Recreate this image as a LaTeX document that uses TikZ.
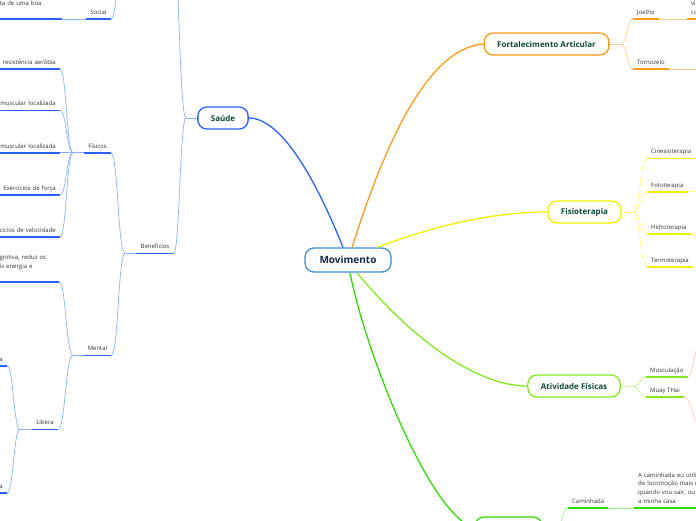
\documentclass[tikz,border=0pt]{standalone}
\usepackage{fontspec}
\setmainfont{Open Sans}
\usetikzlibrary{calc}

\definecolor{movborder}{HTML}{3F8EDB}
\definecolor{movtext}{HTML}{10294A}
\definecolor{topictext}{HTML}{0D4A3A}
\definecolor{labeltext}{HTML}{333333}
\definecolor{sblue}{HTML}{2962FF}
\definecolor{sbluelt}{HTML}{8CB2FF}
\definecolor{forange}{HTML}{FF9A1A}
\definecolor{forangelt}{HTML}{FFCF8A}
\definecolor{fyellow}{HTML}{F2F200}
\definecolor{fyellowlt}{HTML}{FFFF85}
\definecolor{agreen}{HTML}{84EA1E}
\definecolor{agreenlt}{HTML}{C4F590}
\definecolor{bgreen}{HTML}{2EE000}
\definecolor{bgreenlt}{HTML}{9CF28A}
\definecolor{mpink}{HTML}{FFC4BC}

\tikzset{
  branch/.style={to path={.. controls ($(\tikztostart)!.5!(\tikztotarget|-\tikztostart)$)
      and ($(\tikztotarget)!.5!(\tikztostart|-\tikztotarget)$) .. (\tikztotarget)}}
}

\begin{document}
\begin{tikzpicture}[
  x=1pt, y=-1pt,
  hub/.style={draw=movborder, line width=1.3pt, fill=white, rounded corners=9pt, minimum width=86pt, minimum height=24pt, font=\fontsize{10}{12}\selectfont\bfseries, text=movtext},
  topic/.style={draw=#1, line width=1.3pt, fill=white, rounded corners=9pt, minimum height=22pt, inner xsep=13pt, font=\fontsize{8}{10}\selectfont\bfseries, text=topictext},
  lbl/.style={inner xsep=4pt, inner ysep=3pt, text depth=1.5pt, font=\fontsize{6}{8.7}\selectfont, text=labeltext},
  cutr/.style={lbl, text width=#1, align=right, anchor=south east},
  under/.style={line width=1.6pt, draw=#1},
  link/.style={line width=0.7pt, draw=#1},
  main/.style={line width=1.3pt, draw=#1}
]
\useasboundingbox (0,0) rectangle (696,520);
\fill[white] (0,0) rectangle (696,520);
\clip (0,0) rectangle (696,520);

% central and main topics
\node[hub] (mov) at (348,260) {Movimento};
\node[topic=sblue] (sau) at (223,118) {Saúde};
\node[topic=forange] (fort) at (546.5,44) {Fortalecimento Articular};
\node[topic=fyellow] (fisio) at (584.5,212) {Fisioterapia};
\node[topic=agreen] (ativ) at (574,386) {Atividade Físicas};
\node[topic=bgreen, minimum width=67pt] (bot) at (508.5,528) {};

% Saude side
\node[lbl, anchor=south] (ben) at (155,253.5) {Benefícios};
\node[lbl, anchor=south] (fis) at (97.5,152.7) {Físicos};
\node[lbl, anchor=south] (men) at (97.5,355.3) {Mental};
\node[lbl, anchor=south] (lib) at (45,429.3) {Libera};
\node[lbl, anchor=south] (soc) at (98.5,19) {Social};
\node[cutr=70pt] (aer) at (60,69) {resistência aeróbia};
\node[cutr=70pt] (mu1) at (60,110.3) {muscular localizada};
\node[cutr=70pt] (mu2) at (60,152.7) {muscular localizada};
\node[cutr=70pt] (frc) at (60,194.7) {Exercícios de força};
\node[cutr=70pt] (vel) at (60,237) {cícios de velocidade};
\node[lbl, text width=55pt, align=left, text depth=10.2pt, inner ysep=12pt, anchor=south east] (cog) at (59,281.7) {gnitiva, reduz os\\is energia e};
\node[cutr=10pt] (la1) at (7,366) {a};
\node[cutr=10pt] (la2) at (7,493) {a};
\node[lbl, text width=58pt, align=left, inner ysep=12pt, anchor=south east] (boa) at (62,19) {ta de uma boa};

% right side
\node[lbl, anchor=south west] (joe) at (633,19) {Joelho};
\node[lbl, text width=40pt, align=left, text depth=10.2pt, anchor=south west] (joc) at (687,19) {vi\\co};
\node[lbl, anchor=south west] (tor) at (633,69) {Tornozelo};
\node[lbl, anchor=south west] (cin) at (647,158.3) {Cinesioterapia};
\node[lbl, anchor=south west] (fot) at (647,191.7) {Fototerapia};
\node[lbl, anchor=south west] (hid) at (647,234) {Hidroterapia};
\node[lbl, anchor=south west] (ter) at (647,266.7) {Termoterapia};
\node[lbl, anchor=south west] (mus) at (646,376.7) {Musculação};
\node[lbl, anchor=south west] (muy) at (646,396.7) {Muay THai};
\node[lbl, anchor=south west] (cam) at (568,508) {Caminhada};
\node[lbl, text width=80pt, align=left, text depth=27.6pt, anchor=south west] (cac) at (634,508) {A caminhada eu utiliz\\de locomoção mais r\\quando vou sair, ou p\\a minha casa};

% branch points
\coordinate (sau-b) at (186,118);
\coordinate (sau-up) at (172,-70);
\coordinate (soc-up) at (124,-50);
\coordinate (ben-b) at (125,253.5);
\coordinate (fis-b) at (73,152.7);
\coordinate (men-b) at (73,355.3);
\coordinate (lib-b) at (20,429.3);
\coordinate (fort-b) at (621,44);
\coordinate (tor-x) at (720,69);
\coordinate (fisio-b) at (633,212);
\coordinate (fot-x) at (720,191.7);
\coordinate (hid-x) at (720,234);
\coordinate (ativ-b) at (633,386.7);
\coordinate (mus-x) at (700,345);
\coordinate (muy-x) at (700,425);
\coordinate (bot-b) at (556,528);

% main curves
\draw[main=sblue] ([xshift=-5pt]mov.north) .. controls +(-28,-70) and +(32,0) .. (sau.east);
\draw[main=forange] ([xshift=4pt]mov.north) .. controls +(28,-88) and +(-60,4) .. (fort.west);
\draw[main=fyellow] ([xshift=29pt]mov.north) .. controls +(53,-20) and +(-58,0) .. (fisio.west);
\draw[main=agreen] ([xshift=9pt]mov.south) .. controls +(43,53) and +(-58,0) .. (ativ.west);
\draw[main=bgreen] ([xshift=2pt]mov.south) .. controls +(15,78) and +(-45,-13) .. (bot.west);

% underlines
\foreach \n in {ben,fis,men,lib,soc,aer,mu1,mu2,frc,vel,cog,la1,la2,boa}
  \draw[under=sblue] (\n.south west) -- (\n.south east);
\foreach \n in {joe,joc,tor}
  \draw[under=forange] (\n.south west) -- (\n.south east);
\foreach \n in {cin,fot,hid,ter}
  \draw[under=fyellow] (\n.south west) -- (\n.south east);
\foreach \n in {mus,muy}
  \draw[under=agreen] (\n.south west) -- (\n.south east);
\foreach \n in {cam,cac}
  \draw[under=bgreen] (\n.south west) -- (\n.south east);

% Saude links
\draw[link=sbluelt] (sau.west) -- (sau-b);
\draw[link=sbluelt] (sau-b) to[branch] (sau-up);
\draw[link=sbluelt] (sau-b) to[branch] (ben.south east);
\draw[link=sbluelt] (ben.south west) -- (ben-b);
\draw[link=sbluelt] (ben-b) to[branch] (fis.south east);
\draw[link=sbluelt] (ben-b) to[branch] (men.south east);
\draw[link=sbluelt] (fis.south west) -- (fis-b);
\foreach \n in {aer,mu1,mu2,frc,vel}
  \draw[link=sbluelt] (fis-b) to[branch] (\n.south east);
\draw[link=sbluelt] (men.south west) -- (men-b);
\draw[link=sbluelt] (men-b) to[branch] (cog.south east);
\draw[link=sbluelt] (men-b) to[branch] (lib.south east);
\draw[link=sbluelt] (lib.south west) -- (lib-b);
\draw[link=sbluelt] (lib-b) to[branch] (la1.south east);
\draw[link=sbluelt] (lib-b) to[branch] (la2.south east);
\draw[link=sbluelt] (soc.south west) -- (boa.south east);
\draw[link=sbluelt] (soc.south east) to[branch] (soc-up);

% Fortalecimento links
\draw[link=forangelt] (fort.east) -- (fort-b);
\draw[link=forangelt] (fort-b) to[branch] (joe.south west);
\draw[link=forangelt] (fort-b) to[branch] (tor.south west);
\draw[link=forangelt] (joe.south east) -- (joc.south west);
\draw[link=forangelt] (tor.south east) -- (tor-x);

% Fisioterapia links
\draw[link=fyellowlt] (fisio.east) -- (fisio-b);
\foreach \n in {cin,fot,hid,ter}
  \draw[link=fyellowlt] (fisio-b) to[branch] (\n.south west);
\draw[link=fyellowlt] (fot.south east) -- (fot-x);
\draw[link=fyellowlt] (hid.south east) -- (hid-x);

% Atividade links
\draw[link=agreenlt] (ativ.east) -- (ativ-b);
\draw[link=agreenlt] (ativ-b) to[branch] (mus.south west);
\draw[link=agreenlt] (ativ-b) to[branch] (muy.south west);
\draw[link=mpink, line width=0.6pt] (mus.south east) to[branch] (mus-x);
\draw[link=mpink, line width=0.6pt] (muy.south east) to[branch] (muy-x);

% bottom links
\draw[link=bgreenlt] (bot.east) -- (bot-b);
\draw[link=bgreenlt] (bot-b) to[branch] (cam.south west);
\draw[link=bgreenlt] (cam.south east) -- (cac.south west);
\end{tikzpicture}
\end{document}
